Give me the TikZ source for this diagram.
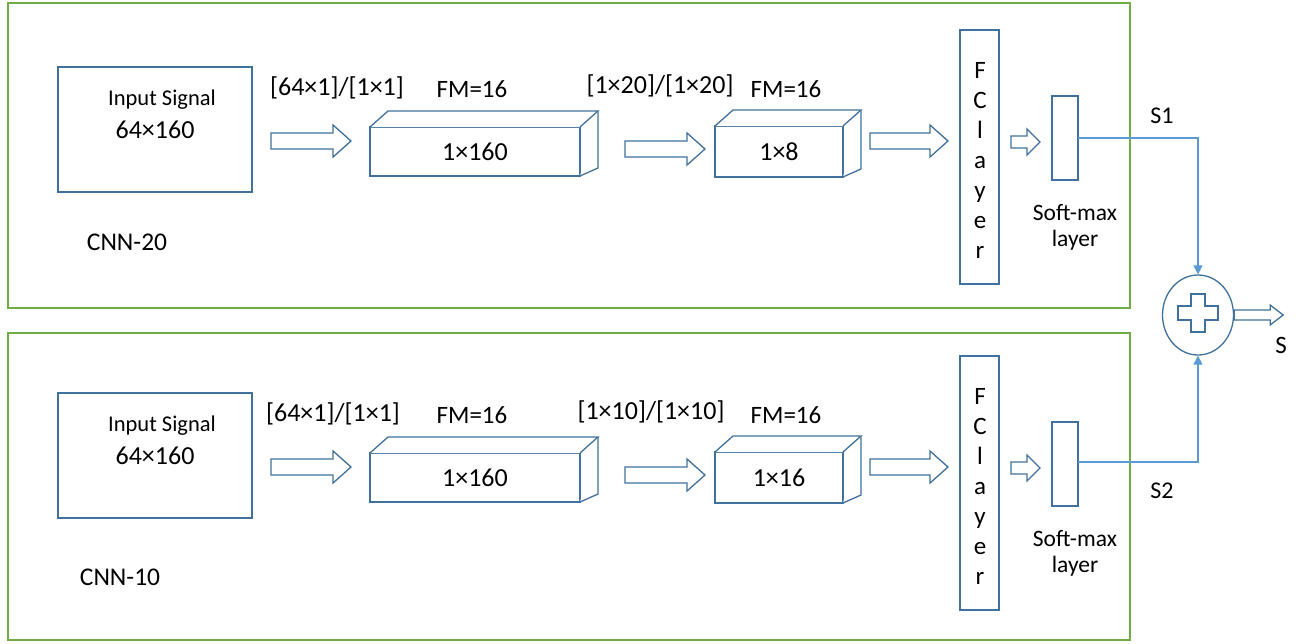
\documentclass[tikz,border=0pt]{standalone}
\usepackage{fontspec}
\setmainfont{Carlito}
\usetikzlibrary{arrows.meta,calc,shapes.geometric}
\definecolor{boxblue}{HTML}{41719C}
\definecolor{panelgreen}{HTML}{70AD47}
\definecolor{linkblue}{HTML}{5B9BD5}
\tikzset{
  panel/.style={draw=panelgreen, line width=1.3pt},
  unit/.style={draw=boxblue, line width=1.3pt, fill=white},
  fs/.style={font=\fontsize{#1}{#1}\selectfont},
  lbl/.style={fs=23, inner sep=0pt},
  biglbl/.style={fs=26, inner sep=0pt},
  link/.style={draw=linkblue, line width=1.3pt},
  linktip/.style={-{Triangle[length=9pt,width=9pt]}},
}
% hollow block arrow: start point, length, shaft half-height, head half-height, head length
\newcommand\blockarrow[5]{%
  \draw[unit] ($#1+(0,-#3)$) -- ++(#2-#5,0) -- ++(0,-#4+#3) -- ($#1+(#2,0)$)
    -- ($#1+(#2-#5,#4)$) -- ++(0,-#4+#3) -- ($#1+(0,#3)$) -- cycle;}
% cuboid: front rectangle corners, with a fixed depth offset
\newcommand\cuboid[4]{%
  \draw[unit] (#1,#2) rectangle (#3,#4);
  \draw[unit] (#1,#2) -- ++(18,-16) -- (#3+18,#2-16) -- (#3,#2);
  \draw[unit] (#3+18,#2-16) -- (#3+18,#4-8) -- (#3,#4);}
\begin{document}
\begin{tikzpicture}[x=1pt,y=-1pt]
\useasboundingbox (0,0) rectangle (1303,643);

% panels
\draw[panel] (8,3) rectangle (1130,308);
\draw[panel] (8,333) rectangle (1130,640);

% one row per network: shift, name, name position, kernel labels and their x, output size
\foreach \dy/\net/\nx/\ny/\lA/\ax/\lB/\bx/\out in
  {0/CNN-20/127/242/{[64×1]/[1×1]}/337/{[1×20]/[1×20]}/660/1×8,
   326/CNN-10/120/251/{[64×1]/[1×1]}/333/{[1×10]/[1×10]}/651/1×16}{
  \begin{scope}[yshift=-\dy pt]
    % input signal
    \draw[unit] (58,67) rectangle (252,192);
    \node[lbl, fs=22.5] at (162,100) {Input Signal};
    \node[biglbl] at (155,130) {64×160};
    \node[lbl, fs=25.5] at (\nx,\ny) {\net};
    % first convolution
    \blockarrow{(271,141)}{80}{8}{16}{18}
    \node[lbl, fs=26] at (\ax,88) {\lA};
    \node[lbl, fs=25] at (472,89) {FM=16};
    \cuboid{370}{127}{580}{176}
    \node[biglbl] at (475,152) {1×160};
    % second convolution
    \blockarrow{(625,149)}{80}{8}{16}{18}
    \node[lbl, fs=26] at (\bx,86) {\lB};
    \node[lbl, fs=25] at (786,89) {FM=16};
    \cuboid{715}{126}{843}{177}
    \node[biglbl] at (779,152) {\out};
    % fully connected layer
    \blockarrow{(870,141)}{78}{8}{16}{18}
    \draw[unit] (960,30) rectangle (999,284);
    \foreach \ch [count=\i] in {F,C,l,a,y,e,r}
      \node[lbl, fs=25, anchor=base] at (980,48+30*\i) {\ch};
    % soft-max layer
    \blockarrow{(1011,142)}{29}{6}{13}{13}
    \draw[unit] (1052,96) rectangle (1078,180);
    \node[lbl, fs=23.5] at (1075,213) {Soft-max};
    \node[lbl, fs=23.5] at (1075,240) {layer};
  \end{scope}
}

% summation
\node[draw=boxblue, line width=1.3pt, ellipse, minimum width=71pt, minimum height=80pt, inner sep=0pt] (sum) at (1198,315) {};
\draw[unit] (1191,294) -- (1205,294) -- (1205,306) -- (1218,306) -- (1218,320) -- (1205,320)
  -- (1205,332) -- (1191,332) -- (1191,320) -- (1178,320) -- (1178,306) -- (1191,306) -- cycle;
\coordinate (s1) at (1078,138);
\coordinate (s2) at (1078,462);
\draw[link,linktip] (s1) -| (sum.north);
\draw[link,linktip] (s2) -| (sum.south);
\node[lbl, fs=24] at (1162,116) {S1};
\node[lbl, fs=24] at (1162,491) {S2};
\blockarrow{(sum.east)}{49}{5}{10}{13}
\node[lbl, fs=25] at (1281,345) {S};
\end{tikzpicture}
\end{document}
